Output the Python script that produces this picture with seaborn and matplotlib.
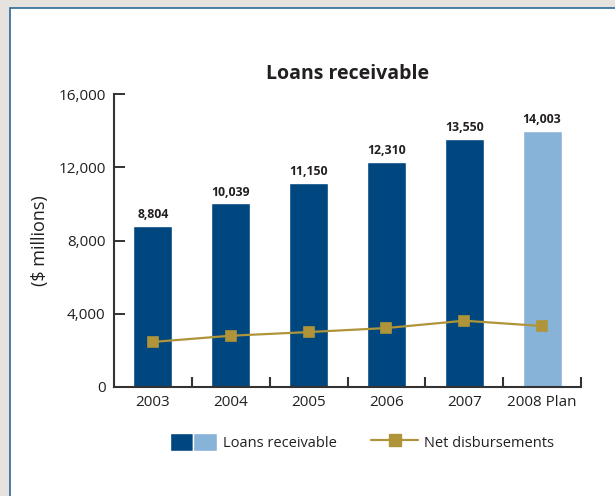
import matplotlib
matplotlib.use("Agg")
import matplotlib.pyplot as plt
from matplotlib.patches import Rectangle
from matplotlib.lines import Line2D
from matplotlib.legend_handler import HandlerTuple
from matplotlib.ticker import FixedLocator, FixedFormatter, NullFormatter
import seaborn as sns
import pandas as pd

years = ["2003", "2004", "2005", "2006", "2007", "2008 Plan"]
loans = [8804, 10039, 11150, 12310, 13550, 14003]
net_disb = [2460, 2800, 3000, 3220, 3620, 3330]
y_ticks = [0, 4000, 8000, 12000, 16000]

dark_blue = "#00467f"
light_blue = "#88b3d8"
gold = "#b0943a"
text_col = "#231f20"
axis_col = "#333333"

sns.set_theme(style="ticks", rc={"axes.axisbelow": False})
plt.rcParams["font.family"] = ["Open Sans", "DejaVu Sans"]

df = pd.DataFrame({"year": years, "loans": loans, "net": net_disb})
bar_colors = [dark_blue] * 5 + [light_blue]

fig = plt.figure(figsize=(6.15, 4.96), dpi=100)
fig.patch.set_facecolor("#e6e2dd")
# white panel with blue frame
fig.add_artist(Rectangle((10 / 615, -0.1), 1.2, (496 - 7.5) / 496 + 0.1,
                         transform=fig.transFigure, facecolor="white",
                         edgecolor="#2a6a99", linewidth=1.2, zorder=0))

ax = fig.add_axes([114 / 615, 1 - 387 / 496, (581 - 114) / 615, (387 - 94) / 496])
ax.set_facecolor("none")

sns.barplot(data=df, x="year", y="loans", hue="year", palette=bar_colors,
            order=years, hue_order=years, width=0.5, legend=False,
            saturation=1, ax=ax, zorder=2)
sns.pointplot(data=df, x="year", y="net", order=years, color=gold,
              markers="s", markersize=7.5, linewidth=1.6, ax=ax, zorder=3)

for i, v in enumerate(loans):
    ax.text(i, v + 250, f"{v:,}", ha="center", va="bottom", fontsize=8.8,
            fontweight="bold", color=text_col)

ax.set_xlim(-0.5, 5.5)
ax.set_ylim(0, 16000)
ax.set_yticks(y_ticks)
ax.set_yticklabels([f"{t:,}" for t in y_ticks], fontsize=11, color=text_col)
ax.tick_params(axis="y", left=True, direction="in", length=8, width=1.4,
               color=axis_col, pad=6)

# x: tick marks sit between categories, labels sit under the bars
ax.xaxis.set_major_locator(FixedLocator([i + 0.5 for i in range(len(years))]))
ax.xaxis.set_major_formatter(NullFormatter())
ax.xaxis.set_minor_locator(FixedLocator(list(range(len(years)))))
ax.xaxis.set_minor_formatter(FixedFormatter(years))
ax.tick_params(axis="x", which="major", bottom=True, direction="in", length=7.5,
               width=1.5, color=axis_col)
ax.tick_params(axis="x", which="minor", bottom=True, length=0, pad=6,
               labelsize=11, labelcolor=text_col)

for side in ["top", "right"]:
    ax.spines[side].set_visible(False)
for side in ["left", "bottom"]:
    ax.spines[side].set_color(axis_col)
    ax.spines[side].set_linewidth(1.5)

ax.set_xlabel("")
ax.set_ylabel("($ millions)", fontsize=13, color=text_col, labelpad=7)
ax.set_title("Loans receivable", fontsize=14, fontweight="bold", color=text_col, pad=11)

h_bars = (Rectangle((0, 0), 1, 1, facecolor=dark_blue),
          Rectangle((0, 0), 1, 1, facecolor=light_blue))
h_line = Line2D([], [], color=gold, marker="s", markersize=8, linewidth=1.6)
fig.legend([h_bars, h_line], ["Loans receivable", "Net disbursements"],
           handler_map={tuple: HandlerTuple(ndivide=None, pad=0)},
           loc="center", bbox_to_anchor=(362 / 615, 1 - 442 / 496), ncol=2,
           frameon=False, fontsize=10.5, handlelength=3.2, handleheight=1.6,
           columnspacing=2.4, handletextpad=0.4, labelcolor=text_col)

fig.savefig("out.png", dpi=100, facecolor=fig.get_facecolor())
